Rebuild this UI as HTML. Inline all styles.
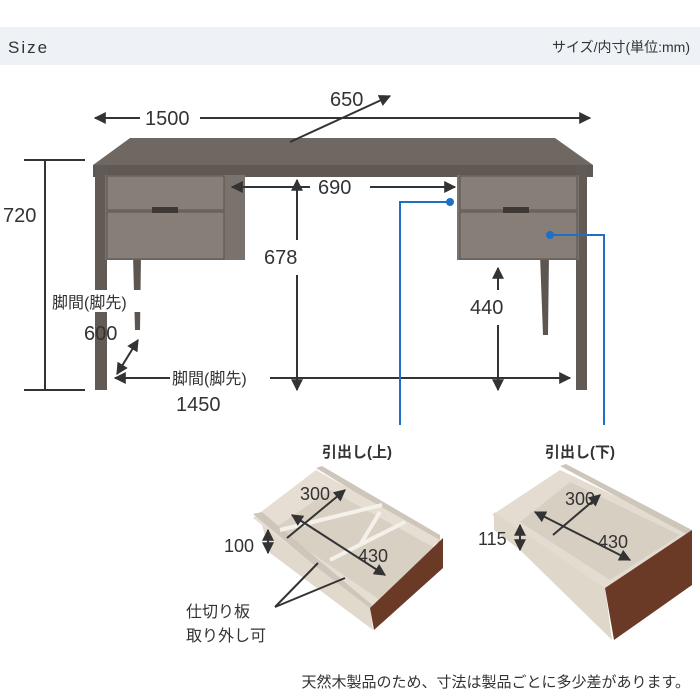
<!DOCTYPE html>
<html><head><meta charset="utf-8"><style>
body{margin:0;width:700px;height:700px;background:#fff;overflow:hidden}
svg{display:block}
text{font-family:"Liberation Sans","Noto Sans CJK JP",sans-serif;fill:#333}
</style></head><body>
<svg width="700" height="700" viewBox="0 0 700 700">
<defs>
<marker id="a" viewBox="0 0 10 10" refX="9" refY="5" markerWidth="6" markerHeight="6" orient="auto-start-reverse"><path d="M0,0L10,5L0,10z" fill="#333"/></marker>
</defs>
<rect x="0" y="27" width="700" height="38" fill="#eef1f6"/>
<text x="8" y="53" font-size="17" letter-spacing="2" fill="#555">Size</text>
<text x="690" y="52" font-size="14" text-anchor="end" fill="#444">サイズ/内寸(単位:mm)</text>
<g fill="#6f6862">
<polygon points="130,138 555,138 593,165 93,165"/>
<rect x="93" y="165" width="500" height="12" fill="#5f5853"/>
<rect x="95" y="165" width="12" height="225" fill="#615a55"/>
<rect x="576" y="165" width="11" height="225" fill="#615a55"/>
<polygon points="133,255 141,255 140,330 135,330" fill="#5c5550"/>
<polygon points="540,255 549,255 548,335 543,335" fill="#5c5550"/>
<rect x="105" y="175" width="140" height="85" fill="#7a726c"/>
<rect x="457" y="175" width="122" height="85" fill="#7a726c"/>
</g>
<g fill="#867e77" stroke="#5a534e">
<rect x="107" y="176" width="117" height="34"/>
<rect x="107" y="212" width="117" height="47"/>
<rect x="460" y="176" width="117" height="34"/>
<rect x="460" y="212" width="117" height="47"/>
</g>
<rect x="152" y="207" width="26" height="6" fill="#3e3835"/>
<rect x="503" y="207" width="26" height="6" fill="#3e3835"/>
<g stroke="#333" stroke-width="2" fill="none">
<line x1="95" y1="118" x2="140" y2="118" marker-start="url(#a)"/>
<line x1="200" y1="118" x2="590" y2="118" marker-end="url(#a)"/>
<line x1="290" y1="142" x2="390" y2="96" marker-end="url(#a)"/>
<line x1="232" y1="187" x2="310" y2="187" marker-start="url(#a)"/>
<line x1="370" y1="187" x2="455" y2="187" marker-end="url(#a)"/>
<line x1="24" y1="160" x2="85" y2="160"/>
<line x1="24" y1="390" x2="85" y2="390"/>
<line x1="45" y1="160" x2="45" y2="390"/>
<line x1="297" y1="180" x2="297" y2="240" marker-start="url(#a)"/>
<line x1="297" y1="275" x2="297" y2="390" marker-end="url(#a)"/>
<line x1="498" y1="268" x2="498" y2="290" marker-start="url(#a)"/>
<line x1="498" y1="325" x2="498" y2="390" marker-end="url(#a)"/>
<line x1="115" y1="378" x2="170" y2="378" marker-start="url(#a)"/>
<line x1="270" y1="378" x2="570" y2="378" marker-end="url(#a)"/>
<line x1="138" y1="340" x2="117" y2="374" marker-start="url(#a)" marker-end="url(#a)"/>
</g>
<g stroke="#1f6fc7" stroke-width="2" fill="none">
<polyline points="450,202 400,202 400,425"/>
<polyline points="550,235 604,235 604,425"/>
</g>
<circle cx="450" cy="202" r="4" fill="#1f6fc7"/>
<circle cx="550" cy="235" r="4" fill="#1f6fc7"/>
<g font-size="20">
<text x="145" y="125">1500</text>
<text x="330" y="106">650</text>
<text x="318" y="194">690</text>
<text x="3" y="222">720</text>
<text x="264" y="264">678</text>
<text x="470" y="314">440</text>
<text x="84" y="340">600</text>
<text x="176" y="411">1450</text>
</g>
<rect x="52" y="290" width="110" height="22" fill="#fff"/>
<text x="52" y="308" font-size="16">脚間(脚先)</text>
<text x="172" y="384" font-size="16">脚間(脚先)</text>
<text x="322" y="457" font-size="15" font-weight="bold">引出し(上)</text>
<text x="545" y="457" font-size="15" font-weight="bold">引出し(下)</text>
<!-- left drawer -->
<polygon points="316,468 322,466 440,535 440,545" fill="#cfc6bb"/>
<polygon points="316,470 440,540 370,610 253,518" fill="#e6ded3"/>
<polygon points="330,490 435,548 380,600 275,528" fill="#d9d0c4"/>
<polygon points="253,514 262,512 372,605 370,612" fill="#cfc6bb"/>
<polygon points="262,525 370,608 373,630 270,553" fill="#e2d9cd"/>
<polygon points="370,608 443,538 443,568 374,630" fill="#6b3a27"/>
<g stroke="#f4f0ea" stroke-width="4"><line x1="280" y1="530" x2="382" y2="505"/><line x1="330" y1="560" x2="405" y2="522"/><line x1="360" y1="545" x2="380" y2="512"/></g>
<!-- right drawer -->
<polygon points="560,470 692,532 608,592 492,515" fill="#e4dcd1"/>
<polygon points="570,482 680,535 610,580 520,522" fill="#d8cfc3"/>
<polygon points="560,466 566,464 692,530 690,536" fill="#cfc6bb"/>
<polygon points="494,512 605,588 612,640 520,550 494,530" fill="#e0d7cb"/>
<polygon points="605,588 692,530 692,585 614,640" fill="#6b3a27"/>
<g stroke="#333" stroke-width="2" fill="none">
<line x1="287" y1="538" x2="345" y2="490" marker-end="url(#a)"/>
<line x1="292" y1="515" x2="385" y2="575" marker-start="url(#a)" marker-end="url(#a)"/>
<line x1="268" y1="530" x2="268" y2="553" marker-start="url(#a)" marker-end="url(#a)"/>
<line x1="553" y1="535" x2="600" y2="495" marker-end="url(#a)"/>
<line x1="535" y1="512" x2="630" y2="560" marker-start="url(#a)" marker-end="url(#a)"/>
<line x1="520" y1="525" x2="520" y2="550" marker-start="url(#a)" marker-end="url(#a)"/>
<line x1="275" y1="607" x2="318" y2="563"/>
<line x1="275" y1="607" x2="345" y2="578"/>
</g>
<g font-size="18">
<text x="300" y="500">300</text>
<text x="358" y="562">430</text>
<text x="224" y="552">100</text>
<text x="565" y="505">300</text>
<text x="598" y="548">430</text>
<text x="478" y="545">115</text>
</g>
<text x="186" y="617" font-size="16">仕切り板</text>
<text x="186" y="641" font-size="16">取り外し可</text>
<text x="690" y="687" font-size="15" text-anchor="end">天然木製品のため、寸法は製品ごとに多少差があります。</text>
</svg>
</body></html>
